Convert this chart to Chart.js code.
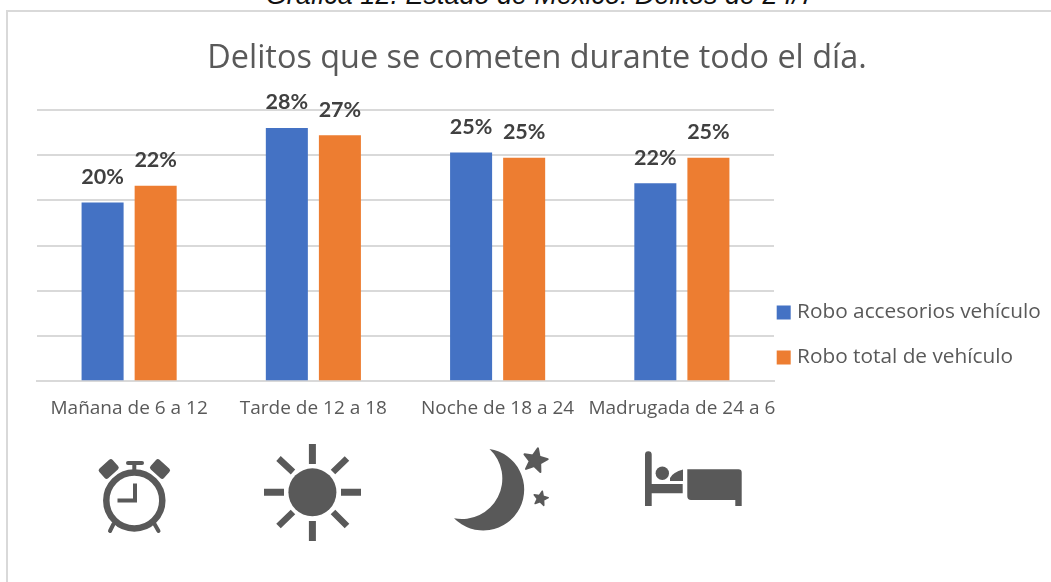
<!DOCTYPE html>
<html lang="es"><head><meta charset="utf-8">
<style>
html,body{margin:0;padding:0;width:1051px;height:582px;overflow:hidden;background:#fff}
#frame{position:absolute;left:6px;top:10px;width:1100px;height:620px;border:2px solid #d9d9d9;box-sizing:border-box}
#cap{position:absolute;left:0;width:1081px;top:-20px;text-align:center;font:italic 27px "Liberation Sans",sans-serif;color:#111;white-space:nowrap}
canvas{position:absolute;left:0;top:0}
#icons{position:absolute;left:0;top:0;pointer-events:none}
</style>
<script src="https://cdn.jsdelivr.net/npm/chart.js@4"></script>
</head><body>
<div id="cap">Gráfica 12. Estado de México: Delitos de 24/7</div>
<div id="frame"></div>
<canvas id="c" width="1051" height="582"></canvas>
<svg id="icons" width="1051" height="582" fill="#595959" stroke="none">
  <!-- alarm clock -->
  <g>
    <circle cx="134.3" cy="500.5" r="28" fill="none" stroke="#595959" stroke-width="6.5"/>
    <path d="M117.5 500.5H135V483.5" fill="none" stroke="#595959" stroke-width="4"/>
    <path d="M134.3 463V470" stroke="#595959" stroke-width="4"/>
    <path d="M128 463H142" stroke="#595959" stroke-width="4" stroke-linecap="round"/>
    <rect x="-9" y="-6.5" width="18" height="13" rx="2.5" transform="translate(108.7 469) rotate(-42)"/>
    <rect x="-9" y="-6.5" width="18" height="13" rx="2.5" transform="translate(160 469) rotate(42)"/>
    <path d="M113.5 524L110 531M154.5 524L158.5 531" stroke="#595959" stroke-width="4" stroke-linecap="round"/>
  </g>
  <!-- sun -->
  <g stroke="#595959" stroke-width="7">
    <circle cx="312.4" cy="492.3" r="24" stroke="none"/>
    <path d="M312.4 444V464M312.4 521V541M264 492.3H284M341 492.3H361"/>
    <path d="M278.5 458.5L293 472M347 458.5L333 472M278.5 526L293 512M347 526L333 512" stroke-width="6.5"/>
  </g>
  <!-- moon -->
  <path d="M489.5 449A41 41 0 1 1 454 518.3A40.5 40.5 0 0 0 489.5 449Z"/>
  <polygon id="s1" stroke="#595959" stroke-width="2" stroke-linejoin="round"/>
  <polygon id="s2" stroke="#595959" stroke-width="1.5" stroke-linejoin="round"/>
  <!-- bed -->
  <path d="M645 454.5a3.3 3.3 0 0 1 6.7 0V484H682.7V493.3H651.7V506H645Z"/>
  <circle cx="662.3" cy="473.3" r="6.7"/>
  <path d="M670 481V478Q673 472 683 469.5V481Z"/>
  <path d="M687.3 469.3H738.5a3.2 3.2 0 0 1 3.2 3.2V506H735.3V500H691a3.7 3.7 0 0 1 -3.7 -3.7Z"/>
</svg>
<script>
const categories = ['Mañana de 6 a 12','Tarde de 12 a 18','Noche de 18 a 24','Madrugada de 24 a 6'];
const seriesNames = ['Robo accesorios vehículo','Robo total de vehículo'];
const accesorios = [19.75,28.0,25.3,21.9];
const total = [21.6,27.2,24.7,24.7];
const titleText = 'Delitos que se cometen durante todo el día.';

function star(id,cx,cy,R,rot){
  const p=[];
  for(let i=0;i<10;i++){
    const r=i%2?R*0.45:R, a=(rot+i*36-90)*Math.PI/180;
    p.push((cx+r*Math.cos(a)).toFixed(1)+','+(cy+r*Math.sin(a)).toFixed(1));
  }
  document.getElementById(id).setAttribute('points',p.join(' '));
}
star('s1',535.3,460.5,12.5,12);
star('s2',540.7,498.5,7.5,12);

const barLabels = {
  id:'barLabels',
  afterDatasetsDraw(chart){
    const ctx=chart.ctx;
    ctx.save();
    ctx.font='bold 21.5px Lato, sans-serif';
    ctx.fillStyle='#404040';
    ctx.textAlign='center';ctx.textBaseline='alphabetic';
    chart.data.datasets.forEach((ds,i)=>{
      chart.getDatasetMeta(i).data.forEach((bar,j)=>{
        ctx.fillText(Math.round(ds.data[j])+'%',bar.x,bar.y-18.5);
      });
    });
    ctx.restore();
  }
};
const legendPlace = {
  id:'legendPlace',
  afterLayout(chart){
    const l=chart.legend, h=l.bottom-l.top;
    l.left=781-24.5; l.right=1051;
    l.top=335-h/2; l.bottom=l.top+h;
    const t=chart.titleBlock;
    t.left=23; t.right=1051;
  }
};
new Chart(document.getElementById('c'),{
  type:'bar',
  data:{labels:categories,datasets:[
    {label:seriesNames[0],data:accesorios,backgroundColor:'#4472c4'},
    {label:seriesNames[1],data:total,backgroundColor:'#ed7d31'}
  ]},
  plugins:[barLabels,legendPlace],
  options:{
    responsive:false,animation:false,
    layout:{padding:{left:37,right:0,top:39,bottom:154}},
    datasets:{bar:{categoryPercentage:0.576,barPercentage:0.792}},
    plugins:{
      title:{display:true,text:titleText,color:'#595959',
        font:{family:'"Open Sans"',size:32.4,weight:'normal'},padding:{top:0,bottom:32}},
      legend:{position:'right',align:'center',maxWidth:277,
        labels:{usePointStyle:true,pointStyle:'rect',boxWidth:6,boxHeight:14,padding:24.2,color:'#595959',
          font:{family:'"Open Sans"',size:20.8}}},
      tooltip:{enabled:false}
    },
    scales:{
      x:{grid:{display:false},border:{color:'#d9d9d9',width:2},
        ticks:{color:'#595959',font:{family:'"Open Sans"',size:19},maxRotation:0,minRotation:0,autoSkip:false,padding:8}},
      y:{min:0,max:30,grid:{color:'#d9d9d9',lineWidth:2,drawTicks:false},border:{display:false},
        ticks:{display:false,stepSize:5}}
    }
  }
});
</script>
</body></html>
